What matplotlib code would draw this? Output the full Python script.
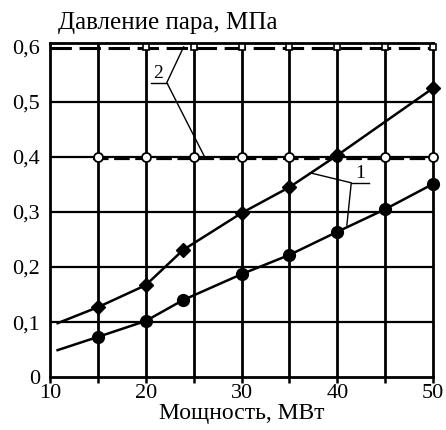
import matplotlib
matplotlib.use("Agg")
import matplotlib.pyplot as plt
import matplotlib.transforms as mtransforms
import numpy as np

plt.rcParams['font.family'] = ['Liberation Serif', 'DejaVu Serif']

# curve 1, upper branch (diamonds); first point is the line start, no marker
p1_up_x = [10.8, 15, 20, 23.9, 30, 35, 40, 50]
p1_up_y = [0.098, 0.127, 0.167, 0.231, 0.298, 0.345, 0.403, 0.525]

# curve 1, lower branch (filled circles)
p1_lo_x = [10.8, 15, 20, 23.9, 30, 35, 40, 45, 50]
p1_lo_y = [0.049, 0.073, 0.102, 0.140, 0.187, 0.222, 0.264, 0.305, 0.351]

# curve 2: constant pressure levels
p2_hi_x = [20, 25, 30, 35, 40, 45, 50]
p2_hi_y = [0.6, 0.6, 0.6, 0.6, 0.6, 0.6, 0.6]
p2_lo_x = [15, 20, 25, 30, 35, 40, 45, 50]
p2_lo_y = [0.4, 0.4, 0.4, 0.4, 0.4, 0.4, 0.4, 0.4]

xticks = [10, 20, 30, 40, 50]
yticks = [0, 0.1, 0.2, 0.3, 0.4, 0.5, 0.6]
ytick_labels = ['0', '0,1', '0,2', '0,3', '0,4', '0,5', '0,6']

fig = plt.figure(figsize=(4.46, 4.30), dpi=100)
ax = fig.add_axes([0.112, 0.123, 0.859, 0.777])

ax.set_xlim(10, 50)
ax.set_ylim(0, 0.607)

# heavy grid
for gx in [15, 20, 25, 30, 35, 40, 45]:
    ax.axvline(gx, color='black', lw=2.0, zorder=1)
for gy in [0.1, 0.2, 0.3, 0.4, 0.5]:
    ax.axhline(gy, color='black', lw=1.6, zorder=1)

for s in ax.spines.values():
    s.set_linewidth(2.0)

# dashed levels sit a touch below the grid lines
shift = mtransforms.offset_copy(ax.transData, fig=fig, x=0, y=-1.5, units='points')
ax.plot([10, 50], [0.6, 0.6], color='black', lw=2.2, dashes=(7, 2.5), zorder=2,
        transform=mtransforms.offset_copy(ax.transData, fig=fig, x=0, y=-0.5, units='points'))
ax.plot([14.5, 50], [0.4, 0.4], color='black', lw=1.6, dashes=(7, 2.5), zorder=2,
        transform=shift)
ax.plot(p2_hi_x, p2_hi_y, 's', ms=4.5, mfc='white', mec='black', mew=1.2, zorder=4, clip_on=False)
ax.plot(p2_lo_x, p2_lo_y, 'o', ms=6.5, mfc='white', mec='black', mew=1.3, zorder=4, clip_on=False)

ax.plot(p1_up_x, p1_up_y, color='black', lw=1.8, zorder=3)
ax.plot(p1_up_x[1:], p1_up_y[1:], 'D', ms=7, color='black', zorder=5, clip_on=False)
ax.plot(p1_lo_x, p1_lo_y, color='black', lw=1.8, zorder=3)
ax.plot(p1_lo_x[1:], p1_lo_y[1:], 'o', ms=8.5, color='black', zorder=5, clip_on=False)

# leader for label 2
ax.text(21.3, 0.536, '2', fontsize=14, ha='center', va='bottom')
ax.plot([20.6, 22.2], [0.535, 0.535], color='black', lw=1.0)
ax.plot([23.96, 22.2, 26.15], [0.600, 0.535, 0.400], color='black', lw=1.0)

# leader for label 1
ax.text(42.4, 0.355, '1', fontsize=14, ha='center', va='bottom')
ax.plot([41.46, 43.33], [0.353, 0.353], color='black', lw=1.0)
ax.plot([37.19, 41.46, 41.0], [0.371, 0.353, 0.276], color='black', lw=1.0)

ax.set_xticks(xticks)
ax.set_xticks([15, 25, 35, 45], minor=True)
ax.set_yticks(yticks)
ax.set_yticklabels(ytick_labels)
ax.tick_params(axis='x', which='both', direction='out', length=4, width=1.8, labelsize=16, pad=1)
ax.tick_params(axis='y', length=0, labelsize=16, pad=7)

ax.set_xlabel('Мощность, МВт', fontsize=17, labelpad=0)
fig.text(0.13, 0.92, 'Давление пара, МПа', fontsize=18, ha='left', va='bottom')

fig.savefig('out.png', dpi=100)
